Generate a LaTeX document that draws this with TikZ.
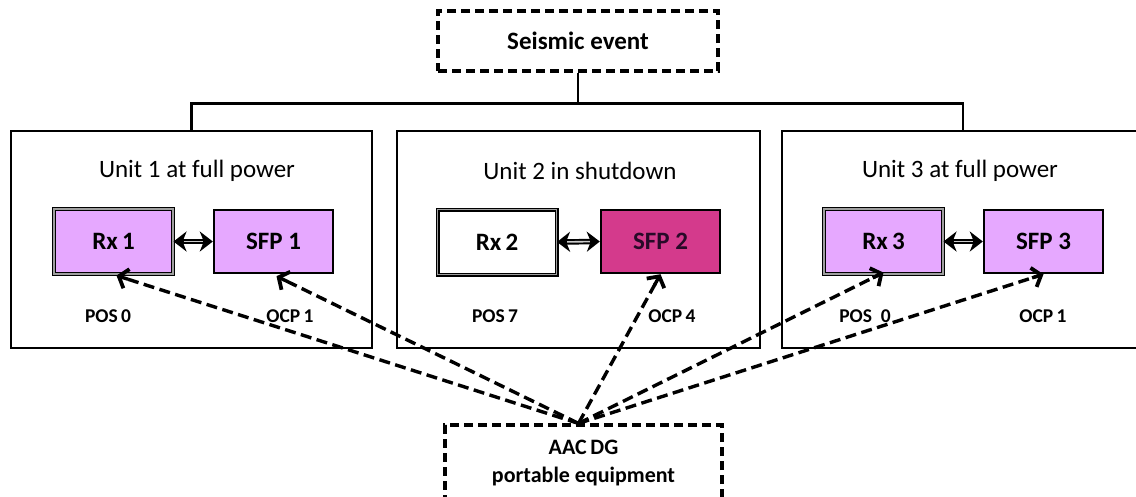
\documentclass[tikz,border=0pt]{standalone}
\usepackage{fontspec}
\setmainfont{Carlito}
\usetikzlibrary{arrows.meta,calc}
\definecolor{lilac}{RGB}{230,168,255}
\definecolor{magentafill}{RGB}{212,58,140}
\definecolor{darktext}{RGB}{40,10,40}
\tikzset{
  unitbox/.style={draw, line width=2.4pt, minimum width=#1, minimum height=217pt, inner sep=0pt},
  eventbox/.style={draw, line width=3.2pt, dash pattern=on 9pt off 5pt, inner sep=0pt},
  rxbox/.style={draw=black, double=gray!75, double distance=1.8pt, line width=1.1pt, minimum width=119pt, minimum height=65pt, inner sep=0pt, font=\fontsize{25}{28}\selectfont\bfseries},
  sfpbox/.style={draw, line width=2.4pt, minimum width=119pt, minimum height=63pt, fill=lilac, inner sep=0pt, font=\fontsize{25}{28}\selectfont\bfseries},
  title/.style={font=\fontsize{25}{28}\selectfont},
  lbl/.style={font=\fontsize{19.5}{22}\selectfont\bfseries},
  link/.style={line width=2.4pt},
  swapbody/.style={line width=5.5pt, {Stealth[length=13pt,width=20pt,inset=4pt]}-{Stealth[length=13pt,width=20pt,inset=4pt]}},
  swapcore/.style={draw=gray!40, line width=1.6pt, shorten <=10pt, shorten >=10pt},
  supply/.style={line width=3.4pt, dash pattern=on 11pt off 5.5pt, shorten >=6pt},
  supplytip/.style={solid, line width=3.4pt, -{Straight Barb[length=8pt,width=20pt,line width=3.8pt]}}
}
\begin{document}
\begin{tikzpicture}[x=1pt,y=-1pt]
\useasboundingbox (0,0) rectangle (1136,496);
% top event
\node[eventbox, minimum width=280pt, minimum height=60pt, font=\fontsize{25}{28}\selectfont\bfseries] (seismic) at (578,41) {Seismic event};
% unit boxes
\node[unitbox=361pt] (unit1) at (191.5,239.5) {};
\node[unitbox=363pt] (unit2) at (578.5,239.5) {};
\node[unitbox=376pt] (unit3) at (970,239.5) {};
\node[title] (t1) at (197,171) {Unit 1 at full power};
\node[title] (t2) at (580,171) {Unit 2 in shutdown};
\node[title] (t3) at (960,171) {Unit 3 at full power};
% tree connector
\draw[link] (seismic.south) -- ++(0,31) coordinate (junction);
\draw[link] (unit1.north) |- (junction) -| ([xshift=-7pt]unit3.north);
% unit 1
\node[rxbox, fill=lilac] (rx1) at (113.5,241.5) {Rx\,1};
\node[sfpbox] (sfp1) at (273.5,241.5) {SFP 1};
\draw[swapbody] (rx1.east) -- (sfp1.west);
\draw[swapcore] (rx1.east) -- (sfp1.west);
\node[lbl] (p1) at (108,316) {POS\,0};
\node[lbl] (o1) at (290,316) {OCP\,1};
% unit 2
\node[rxbox, fill=white] (rx2) at (497,242) {Rx\,2};
\node[sfpbox, fill=magentafill, text=darktext] (sfp2) at (660.5,241.5) {SFP 2};
\draw[swapbody] (rx2.east) -- (sfp2.west);
\draw[swapcore] (rx2.east) -- (sfp2.west);
\node[lbl] (p2) at (495,316) {POS\,7};
\node[lbl] (o2) at (672,316) {OCP\,4};
% unit 3
\node[rxbox, fill=lilac] (rx3) at (883.5,241.5) {Rx\,3};
\node[sfpbox] (sfp3) at (1043.5,241.5) {SFP 3};
\draw[swapbody] (rx3.east) -- (sfp3.west);
\draw[swapcore] (rx3.east) -- (sfp3.west);
\node[lbl] (p3) at (865,316) {POS\ \ 0};
\node[lbl] (o3) at (1043,316) {OCP\,1};
% portable equipment
\node[eventbox, minimum width=277pt, minimum height=76pt, align=center, font=\fontsize{22}{28}\selectfont\bfseries] (aac) at (583.5,463) {AAC\,DG\\[0pt]portable equipment};
\path (aac.north) ++(-5,0) coordinate (apex);
\coordinate (e1) at ($(rx1.south)+(3,1)$);
\coordinate (e2) at ($(sfp1.south)+(3,2)$);
\coordinate (e3) at (sfp2.south);
\coordinate (e4) at ($(rx3.south)+(0,-2)$);
\coordinate (e5) at (sfp3.south);
\foreach \e in {e1,e2,e3,e4,e5}{
  \draw[supply] (apex) -- (\e);
  \draw[supplytip] ($(\e)!12pt!(apex)$) -- (\e);
}
\end{tikzpicture}
\end{document}
